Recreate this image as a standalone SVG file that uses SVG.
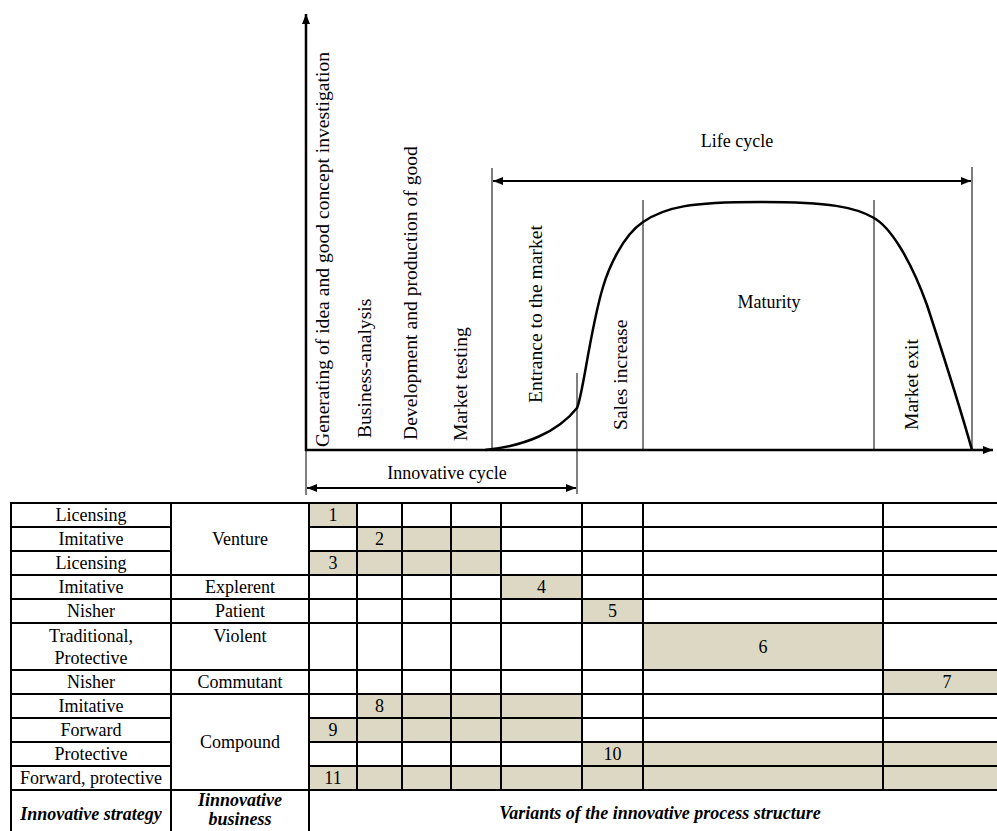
<svg xmlns="http://www.w3.org/2000/svg" width="997" height="831" viewBox="0 0 997 831">
<style>
text{font-family:"Liberation Serif","Times New Roman",serif;fill:#000}
.t{font-size:18px}
.c{text-anchor:middle}
.v{font-size:19.6px}
.bi{font-size:18px;font-weight:bold;font-style:italic}
.ax{stroke:#000;stroke-width:2.5;fill:none}
.thin{stroke:#000;stroke-width:1;fill:none}
.arr{stroke:#000;stroke-width:2;fill:none}
.grid{stroke:#000;stroke-width:2;fill:none}
.sh{fill:#ddd8c3}
</style>
<defs>
<marker id="ah" viewBox="0 0 10 8" refX="10" refY="4" markerWidth="10" markerHeight="8" markerUnits="userSpaceOnUse" orient="auto-start-reverse">
<path d="M0,0 L10,4 L0,8 z" fill="#000"/>
</marker>
</defs>
<rect width="997" height="831" fill="#fff"/>

<g id="chart">
<line class="ax" x1="306" y1="451" x2="306" y2="14" marker-end="url(#ah)"/>
<line class="ax" x1="305" y1="450" x2="993" y2="450" marker-end="url(#ah)"/>
<path class="ax" d="M485,450 C525,446 558,432 577,408 C583,395 590,330 603,287 C608,270 622,236 643,222 C665,207 690,202 760,202 C830,202 855,207 874,218 C890,227 910,258 927,305 C940,345 958,400 972,450"/>
<line class="thin" x1="492" y1="168" x2="492" y2="450"/>
<line class="thin" x1="972" y1="167" x2="972" y2="450"/>
<line class="thin" x1="577" y1="373" x2="577" y2="494"/>
<line class="thin" x1="643" y1="200" x2="643" y2="450"/>
<line class="thin" x1="874" y1="200" x2="874" y2="450"/>
<line class="thin" x1="306" y1="450" x2="306" y2="495"/>
</g>

<g id="arrows">
<line class="arr" x1="493" y1="181" x2="971" y2="181" marker-start="url(#ah)" marker-end="url(#ah)"/>
<line class="arr" x1="307" y1="488" x2="576" y2="488" marker-start="url(#ah)" marker-end="url(#ah)"/>
</g>

<g id="chart-labels">
<text class="v" transform="translate(329,447) rotate(-90)">Generating of idea and good concept investigation</text>
<text class="v" transform="translate(371,438) rotate(-90)">Business-analysis</text>
<text class="v" transform="translate(417,440) rotate(-90)">Development and production of good</text>
<text class="v" transform="translate(467,441) rotate(-90)">Market testing</text>
<text class="v" transform="translate(542,403) rotate(-90)">Entrance to the market</text>
<text class="v" transform="translate(627,430) rotate(-90)">Sales increase</text>
<text class="v" transform="translate(918,430) rotate(-90)">Market exit</text>
<text class="t c" x="737" y="147">Life cycle</text>
<text class="t c" x="769" y="308">Maturity</text>
<text class="t c" x="447" y="479">Innovative cycle</text>
</g>

<g id="table-shading">
<rect class="sh" x="309" y="503" width="48" height="24"/>
<rect class="sh" x="357" y="527" width="144" height="24"/>
<rect class="sh" x="309" y="551" width="192" height="24"/>
<rect class="sh" x="501" y="575" width="81" height="24"/>
<rect class="sh" x="582" y="599" width="61" height="24"/>
<rect class="sh" x="643" y="623" width="240" height="47"/>
<rect class="sh" x="883" y="670" width="114" height="24"/>
<rect class="sh" x="357" y="694" width="225" height="24"/>
<rect class="sh" x="309" y="718" width="273" height="24"/>
<rect class="sh" x="582" y="742" width="415" height="24"/>
<rect class="sh" x="309" y="766" width="688" height="24"/>
</g>

<g id="table-grid">
<path class="grid" d="M11,503 H997 M11,527 H171 M309,527 H997 M11,551 H171 M309,551 H997 M11,575 H997 M11,599 H997 M11,623 H997 M11,670 H997 M11,694 H997 M11,718 H171 M309,718 H997 M11,742 H171 M309,742 H997 M11,766 H171 M309,766 H997 M11,790 H997"/>
<path class="grid" d="M11,502 V831 M171,502 V831 M309,502 V831 M357,502 V790 M402,502 V790 M451,502 V790 M501,502 V790 M582,502 V790 M643,502 V790 M883,502 V790"/>
</g>

<g id="table-text">
<text class="t c" x="91" y="521">Licensing</text>
<text class="t c" x="91" y="545">Imitative</text>
<text class="t c" x="91" y="569">Licensing</text>
<text class="t c" x="91" y="593">Imitative</text>
<text class="t c" x="91" y="617">Nisher</text>
<text class="t c" x="91" y="642">Traditional,</text>
<text class="t c" x="91" y="664">Protective</text>
<text class="t c" x="91" y="688">Nisher</text>
<text class="t c" x="91" y="712">Imitative</text>
<text class="t c" x="91" y="736">Forward</text>
<text class="t c" x="91" y="760">Protective</text>
<text class="t c" x="91" y="784">Forward, protective</text>
<text class="t c" x="240" y="545">Venture</text>
<text class="t c" x="240" y="593">Explerent</text>
<text class="t c" x="240" y="617">Patient</text>
<text class="t c" x="240" y="642">Violent</text>
<text class="t c" x="240" y="688">Commutant</text>
<text class="t c" x="240" y="748">Compound</text>
<text class="t c" x="333" y="521">1</text>
<text class="t c" x="379.5" y="545">2</text>
<text class="t c" x="333" y="569">3</text>
<text class="t c" x="541.5" y="593">4</text>
<text class="t c" x="612.5" y="617">5</text>
<text class="t c" x="763" y="653">6</text>
<text class="t c" x="947" y="688">7</text>
<text class="t c" x="379.5" y="712">8</text>
<text class="t c" x="333" y="736">9</text>
<text class="t c" x="612.5" y="760">10</text>
<text class="t c" x="333" y="784">11</text>
<text class="bi c" x="91" y="820">Innovative strategy</text>
<text class="bi c" x="240" y="806">Iinnovative</text>
<text class="bi c" x="240" y="825">business</text>
<text class="bi c" x="660" y="819">Variants of the innovative process structure</text>
</g>
</svg>
